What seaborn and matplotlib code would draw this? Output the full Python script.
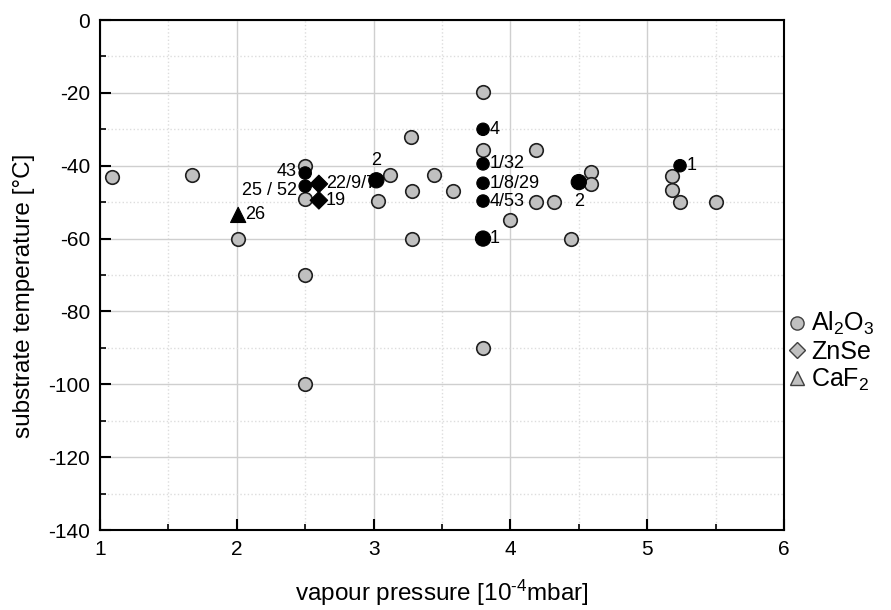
import matplotlib
matplotlib.use("Agg")
import matplotlib.pyplot as plt
from matplotlib.ticker import MultipleLocator
from matplotlib.lines import Line2D
import seaborn as sns
import pandas as pd

# Al2O3 reference points (grey)
al_x = [1.09, 1.67, 2.01, 2.5, 2.5, 2.5, 2.5, 3.03, 3.12, 3.27, 3.28, 3.28, 3.44, 3.58,
        3.8, 3.8, 3.8, 4.19, 4.0, 4.19, 4.32, 4.44, 4.59, 4.59, 5.18, 5.18, 5.24, 5.5]
al_y = [-43, -42.5, -60, -40, -49, -70, -100, -49.7, -42.5, -32, -47, -60, -42.5, -47,
        -19.8, -35.7, -90, -35.7, -55, -50, -50, -60, -41.7, -45, -42.8, -46.7, -50, -50]

# labelled points (black)
lab_mat = ["Al2O3", "Al2O3", "Al2O3", "Al2O3", "Al2O3", "Al2O3", "Al2O3", "Al2O3", "Al2O3",
           "Al2O3", "ZnSe", "ZnSe", "CaF2"]
lab_x = [2.5, 2.5, 3.02, 3.8, 3.8, 3.8, 3.8, 3.8, 4.5, 5.24, 2.6, 2.6, 2.01]
lab_y = [-42, -45.6, -44, -30, -39.5, -44.8, -49.7, -60, -44.5, -40, -45, -49.5, -53.5]
lab_size = [1, 1, 2, 1, 1, 1, 1, 2, 2, 1, 1, 1, 2]
lab_text = ["43", "25 / 52", "2", "4", "1/32", "1/8/29", "4/53", "1", "2", "1",
            "22/9/7", "19", "26"]
lab_pos = ["left", "left2", "top", "right", "right", "right", "right", "right", "bottom",
           "right", "right", "right", "right"]

sns.set_style("white")
plt.rcParams["font.family"] = ["Liberation Sans", "DejaVu Sans"]
plt.rcParams["mathtext.fontset"] = "custom"
plt.rcParams["mathtext.rm"] = "Liberation Sans"
plt.rcParams["mathtext.it"] = "Liberation Sans"
plt.rcParams["axes.unicode_minus"] = False
for k in ["text.color", "axes.labelcolor", "xtick.color", "ytick.color"]:
    plt.rcParams[k] = "black"

fig = plt.figure(figsize=(8.91, 6.10), dpi=100)
ax = fig.add_axes([100 / 891, 1 - 530 / 610, 684 / 891, 510 / 610])

df_al = pd.DataFrame({"x": al_x, "y": al_y})
sns.scatterplot(data=df_al, x="x", y="y", ax=ax, color="#c0c0c0", edgecolor="#202020",
                linewidth=1.2, s=95, zorder=3, legend=False)

df_lab = pd.DataFrame({"x": lab_x, "y": lab_y, "mat": lab_mat, "size": lab_size})
sns.scatterplot(data=df_lab, x="x", y="y", style="mat", size="size", sizes=(80, 120),
                markers={"Al2O3": "o", "ZnSe": "D", "CaF2": "^"}, color="black",
                edgecolor="black", linewidth=0.8, ax=ax, zorder=4, legend=False)

offsets = {"left": (-6, 1, "right", "center"), "left2": (-6, -3, "right", "center"),
           "top": (0, 8, "center", "bottom"), "right": (5, 0, "left", "center"),
           "bottom": (0, -8, "center", "top")}
for x, y, t, p in zip(lab_x, lab_y, lab_text, lab_pos):
    dx, dy, ha, va = offsets[p]
    ax.annotate(t, (x, y), xytext=(dx, dy), textcoords="offset points", ha=ha, va=va,
                fontsize=13, color="black", zorder=5)

ax.set_xlim(1, 6)
ax.set_ylim(-140, 0)
ax.xaxis.set_major_locator(MultipleLocator(1))
ax.xaxis.set_minor_locator(MultipleLocator(0.5))
ax.yaxis.set_major_locator(MultipleLocator(20))
ax.yaxis.set_minor_locator(MultipleLocator(10))
ax.grid(which="major", color="#cfcfcf", linewidth=1.0, linestyle="-")
ax.grid(which="minor", color="#dddddd", linewidth=1.0, linestyle=":")
ax.set_axisbelow(True)
ax.tick_params(which="major", direction="in", length=8, width=1.5, labelsize=15,
               bottom=True, left=True, top=False, right=False, pad=7, colors="black")
ax.tick_params(which="minor", direction="in", length=4, width=1.2,
               bottom=True, left=True, top=False, right=False, colors="black")
for s in ax.spines.values():
    s.set_color("black")
    s.set_linewidth(1.5)

ax.set_xlabel("vapour pressure [10$^{\u2010 4}$mbar]", fontsize=17.5, labelpad=14)
ax.set_ylabel("substrate temperature [°C]", fontsize=17.5)
ax.yaxis.set_label_coords(-0.095, 0.46)

handles = [Line2D([], [], marker=m, linestyle="none", markerfacecolor="#c0c0c0",
                  markeredgecolor="#404040", markersize=ms, markeredgewidth=1)
           for m, ms in [("o", 9.5), ("D", 8.5), ("^", 10.5)]]
leg = ax.legend(handles, ["Al$_2$O$_3$", "ZnSe", "CaF$_2$"], loc="center left",
                bbox_to_anchor=(0.988, 0.35), frameon=False, fontsize=18,
                handletextpad=0.1, handlelength=0.9, labelspacing=0.1, borderaxespad=0.0)
for t in leg.get_texts():
    t.set_color("black")

fig.savefig("out.png", dpi=100)
